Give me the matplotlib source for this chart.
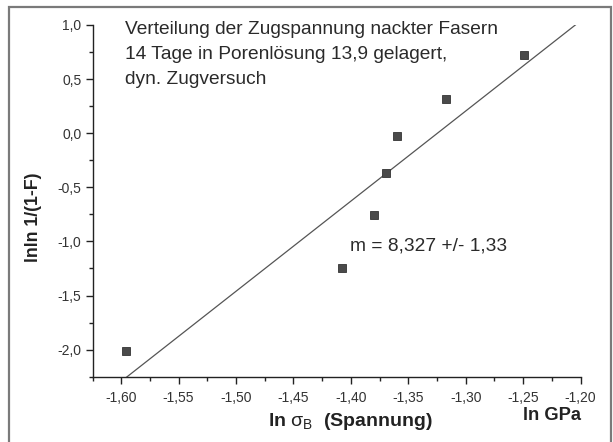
import numpy as np
import matplotlib
matplotlib.use("Agg")
import matplotlib.pyplot as plt
from matplotlib.patches import Rectangle
from matplotlib.ticker import MultipleLocator, FuncFormatter

plt.rcParams["font.family"] = ["Liberation Sans", "DejaVu Sans"]
plt.rcParams["mathtext.fontset"] = "custom"
plt.rcParams["mathtext.rm"] = "Liberation Sans"
plt.rcParams["mathtext.it"] = "Liberation Sans"
plt.rcParams["mathtext.bf"] = "Liberation Sans:bold"

# Weibull data
ln_sigma = [-1.596, -1.4075, -1.380, -1.369, -1.3595, -1.317, -1.249]
lnln_f = [-2.01, -1.25, -0.76, -0.37, -0.025, 0.317, 0.723]

# linear fit
slope = 8.327
slope_err = 1.33
intercept = 11.03

x_ticks = [-1.60, -1.55, -1.50, -1.45, -1.40, -1.35, -1.30, -1.25, -1.20]
y_ticks = [1.0, 0.5, 0.0, -0.5, -1.0, -1.5, -2.0]

info_lines = [
    "Verteilung der Zugspannung nackter Fasern",
    "14 Tage in Porenlösung 13,9 gelagert,",
    "dyn. Zugversuch",
]

W, H = 613, 442
fig = plt.figure(figsize=(W / 100, H / 100), dpi=100)
ax = fig.add_axes([92.5 / W, 1 - 376.7 / H, (580.5 - 92.5) / W, (376.7 - 25) / H])

# outer frame of the scanned figure
fig.patches.append(Rectangle((9 / W, -0.05), (611 - 9) / W, 1.05 - 7 / H,
                             transform=fig.transFigure, fill=False,
                             edgecolor="#7a7a7a", linewidth=1.6, clip_on=False))

# fit line
xl = np.array([-1.625, -1.20])
ax.plot(xl, slope * xl + intercept, color="#555555", linewidth=0.9)

# data points
ax.plot(ln_sigma, lnln_f, "s", color="#4a4a4a", markeredgecolor="#333333",
        markersize=5.3, markeredgewidth=0.6, linestyle="none")

ax.set_xlim(-1.625, -1.20)
ax.set_ylim(-2.25, 1.0)

comma = FuncFormatter(lambda v, p: ("%.2f" % v).replace(".", ","))
comma1 = FuncFormatter(lambda v, p: ("%.1f" % v).replace(".", ","))
ax.set_xticks(x_ticks)
ax.set_yticks(y_ticks)
ax.xaxis.set_major_formatter(comma)
ax.yaxis.set_major_formatter(comma1)
ax.xaxis.set_minor_locator(MultipleLocator(0.025))
ax.yaxis.set_minor_locator(MultipleLocator(0.25))

for s in ["top", "right"]:
    ax.spines[s].set_visible(False)
for s in ["left", "bottom"]:
    ax.spines[s].set_color("#222222")
    ax.spines[s].set_linewidth(1.0)

ax.tick_params(which="major", direction="out", length=5, width=1.0,
               color="#222222", labelsize=10, labelcolor="#333333", pad=3)
ax.tick_params(axis="x", which="major", pad=5.5)
ax.tick_params(which="minor", direction="out", length=3, width=1.0,
               color="#222222")

# texts
for i, line in enumerate(info_lines):
    fig.text(125 / W, 1 - (33.5 + i * 25.3) / H, line, fontsize=13.8,
             color="#2a2a2a", ha="left", va="baseline")

fig.text(350 / W, 1 - 246 / H,
         ("m = %.3f +/- %.2f" % (slope, slope_err)).replace(".", ","),
         fontsize=13.8, color="#2a2a2a", ha="left", va="center")

fig.text(33 / W, 1 - 217 / H, "lnln 1/(1-F)", rotation=90, fontsize=12.8,
         fontweight="bold", color="#222222", ha="center", va="center")
fig.text(350.5 / W, 1 - 421.7 / H, r"ln $\sigma_B$  (Spannung)", fontsize=14,
         fontweight="bold", color="#222222", ha="center", va="center")
fig.text(552 / W, 1 - 415 / H, "ln GPa", fontsize=13.2, fontweight="bold",
         color="#222222", ha="center", va="center")

fig.savefig("out.png", dpi=100)
